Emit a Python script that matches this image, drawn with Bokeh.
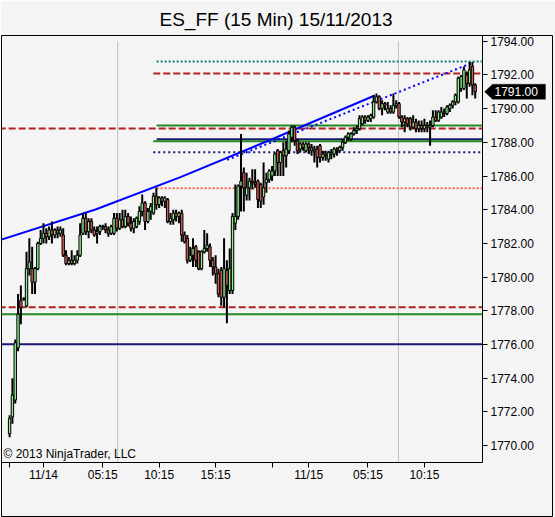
from bokeh.plotting import figure
from bokeh.models import (ColumnDataSource, FixedTicker, Label, PolyAnnotation, Range1d,
                          NumeralTickFormatter)
from bokeh.embed import file_html
from bokeh.resources import INLINE

FONT = "Liberation Sans"

# ---------------- data ----------------
opens = [1770.7, 1771.7, 1772.7, 1775.8, 1778.6, 1778.7, 1778.3, 1780.5, 1780.5, 1779.7,
         1780.5, 1782.0, 1782.3, 1782.6, 1782.4, 1782.8, 1782.5, 1782.8, 1782.6, 1782.5,
         1781.3, 1780.8, 1781.0, 1780.8, 1781.0, 1781.3, 1782.6, 1783.5, 1782.7, 1783.3,
         1782.8, 1782.6, 1782.7, 1783.0, 1783.0, 1782.8, 1782.6, 1782.6, 1783.5, 1782.9,
         1783.4, 1783.0, 1783.6, 1783.2, 1782.9, 1783.0, 1783.3, 1783.9, 1784.4, 1783.3,
         1783.9, 1783.8, 1784.8, 1784.3, 1784.7, 1784.5, 1784.6, 1783.3, 1783.4, 1783.8,
         1783.6, 1783.8, 1782.5, 1782.3, 1781.0, 1781.3, 1781.8, 1781.5, 1780.5, 1781.5,
         1781.7, 1781.8, 1781.0, 1780.6, 1780.2, 1780.4, 1778.8, 1780.4, 1779.2, 1779.2,
         1783.2, 1783.6, 1785.4, 1786.2, 1784.85, 1785.3, 1785.7, 1785.6, 1785.7, 1785.5,
         1784.75, 1785.6, 1785.8, 1786.0, 1786.3, 1787.5, 1786.8, 1787.5, 1787.2, 1787.5,
         1788.3, 1788.9, 1788.1, 1787.6, 1787.9, 1787.5, 1787.9, 1787.7, 1787.5, 1787.6,
         1787.8, 1787.1, 1787.3, 1787.0, 1787.4, 1787.3, 1787.6, 1787.5, 1787.7, 1788.0,
         1788.3, 1788.2, 1788.5, 1788.7, 1788.8, 1789.1, 1789.5, 1789.3, 1789.4, 1789.5,
         1790.4, 1790.7, 1790.0, 1790.3, 1789.8, 1790.0, 1789.8, 1790.2, 1790.3, 1789.5,
         1789.2, 1789.4, 1789.4, 1788.9, 1789.2, 1788.8, 1789.0, 1788.8, 1789.0, 1788.9,
         1789.0, 1789.5, 1789.3, 1789.5, 1789.8, 1789.7, 1790.0, 1790.2, 1790.4, 1790.4,
         1791.2, 1791.2, 1792.0, 1791.5, 1792.5, 1791.4]
highs = [1771.8, 1774.0, 1776.3, 1779.0, 1779.5, 1778.8, 1781.5, 1782.3, 1781.8, 1780.6,
         1782.1, 1782.8, 1783.2, 1782.9, 1783.0, 1783.3, 1782.9, 1783.0, 1783.0, 1782.9,
         1781.6, 1781.2, 1781.6, 1781.3, 1781.6, 1783.2, 1783.8, 1783.8, 1783.5, 1783.5,
         1783.0, 1783.0, 1783.1, 1783.1, 1783.2, 1783.0, 1783.1, 1783.8, 1783.8, 1783.8,
         1784.0, 1784.0, 1783.8, 1783.6, 1783.5, 1783.6, 1784.2, 1784.9, 1784.5, 1784.1,
         1784.4, 1785.0, 1785.3, 1784.8, 1784.8, 1784.8, 1784.7, 1783.8, 1784.0, 1784.0,
         1783.9, 1784.0, 1782.7, 1782.5, 1781.8, 1782.3, 1781.9, 1781.6, 1781.6, 1782.8,
         1782.6, 1782.0, 1781.2, 1781.3, 1780.5, 1780.6, 1782.3, 1781.0, 1781.7, 1783.8,
         1785.5, 1785.5, 1788.5, 1786.5, 1786.2, 1785.9, 1786.4, 1786.4, 1785.8, 1785.6,
         1786.8, 1786.2, 1786.4, 1786.6, 1787.4, 1787.6, 1787.5, 1788.0, 1788.1, 1788.7,
         1789.0, 1789.0, 1788.2, 1788.0, 1788.0, 1788.0, 1788.0, 1787.9, 1787.8, 1787.8,
         1787.9, 1787.5, 1787.5, 1787.5, 1787.6, 1787.7, 1787.7, 1787.8, 1788.2, 1788.4,
         1788.6, 1788.6, 1788.9, 1789.0, 1789.6, 1789.6, 1789.6, 1789.6, 1789.7, 1790.8,
         1790.9, 1790.8, 1790.5, 1790.4, 1790.4, 1790.2, 1790.9, 1790.5, 1790.4, 1789.6,
         1789.6, 1789.5, 1789.5, 1789.6, 1789.4, 1789.3, 1789.3, 1789.4, 1789.2, 1789.3,
         1789.9, 1789.9, 1789.9, 1790.1, 1790.0, 1790.2, 1790.3, 1790.5, 1790.9, 1791.9,
         1792.0, 1792.5, 1792.2, 1792.77, 1792.77, 1791.5]
lows = [1770.5, 1771.3, 1772.5, 1775.6, 1777.2, 1778.6, 1778.2, 1780.1, 1779.0, 1779.0,
        1780.4, 1781.9, 1782.0, 1782.0, 1782.2, 1782.0, 1782.3, 1782.3, 1782.4, 1781.2,
        1780.7, 1780.7, 1780.7, 1780.7, 1780.8, 1781.2, 1782.5, 1782.5, 1782.3, 1782.6,
        1782.4, 1782.0, 1782.5, 1782.8, 1782.6, 1782.4, 1782.5, 1782.5, 1782.7, 1782.8,
        1782.9, 1782.9, 1783.0, 1782.7, 1782.6, 1782.9, 1783.1, 1783.6, 1782.8, 1783.2,
        1783.4, 1783.7, 1784.0, 1784.1, 1784.2, 1784.1, 1783.2, 1783.1, 1783.1, 1783.3,
        1783.2, 1782.1, 1782.0, 1780.8, 1780.9, 1780.6, 1780.6, 1780.4, 1780.4, 1781.4,
        1781.5, 1780.6, 1780.1, 1779.6, 1778.8, 1778.3, 1778.2, 1777.26, 1779.0, 1779.0,
        1782.8, 1783.4, 1783.9, 1783.9, 1784.55, 1784.55, 1785.2, 1785.3, 1784.1, 1784.1,
        1784.3, 1785.0, 1785.6, 1785.7, 1786.0, 1786.0, 1786.0, 1786.0, 1786.5, 1787.3,
        1788.0, 1787.8, 1787.3, 1787.4, 1787.5, 1787.4, 1787.3, 1787.2, 1786.8, 1786.5,
        1786.8, 1786.9, 1786.9, 1786.8, 1787.0, 1787.1, 1787.2, 1787.4, 1787.5, 1787.9,
        1788.1, 1788.1, 1788.4, 1788.5, 1788.7, 1789.0, 1789.1, 1789.2, 1789.2, 1789.4,
        1790.3, 1789.9, 1789.6, 1789.9, 1789.7, 1789.7, 1789.7, 1790.0, 1789.4, 1788.9,
        1788.6, 1788.9, 1788.7, 1788.8, 1788.6, 1788.6, 1788.6, 1788.6, 1788.6, 1787.8,
        1788.9, 1789.2, 1789.2, 1789.4, 1789.5, 1789.6, 1789.8, 1790.0, 1790.2, 1790.3,
        1791.0, 1791.1, 1790.6, 1791.3, 1790.8, 1790.6]
closes = [1771.6, 1773.0, 1776.1, 1777.8, 1778.2, 1778.7, 1780.5, 1780.9, 1779.7, 1780.5,
          1782.0, 1782.3, 1782.6, 1782.4, 1782.8, 1782.5, 1782.8, 1782.6, 1782.8, 1781.3,
          1780.8, 1781.0, 1780.8, 1781.0, 1781.3, 1782.5, 1783.5, 1782.7, 1783.3, 1782.8,
          1782.5, 1782.7, 1783.0, 1783.0, 1782.8, 1782.6, 1783.0, 1783.5, 1782.9, 1783.4,
          1783.0, 1783.6, 1783.2, 1782.9, 1783.3, 1783.5, 1783.9, 1784.4, 1783.3, 1783.9,
          1784.2, 1784.8, 1784.3, 1784.7, 1784.5, 1784.7, 1783.3, 1783.5, 1783.8, 1783.6,
          1783.8, 1782.5, 1782.1, 1781.0, 1781.3, 1781.7, 1781.0, 1780.5, 1781.5, 1781.7,
          1781.9, 1781.0, 1780.6, 1780.2, 1779.0, 1778.8, 1780.5, 1779.5, 1780.5, 1783.6,
          1783.6, 1785.4, 1785.7, 1785.3, 1785.3, 1785.7, 1785.6, 1785.5, 1784.6, 1784.5,
          1785.3, 1785.8, 1786.3, 1786.3, 1787.3, 1786.8, 1787.4, 1787.2, 1787.6, 1788.5,
          1788.9, 1788.1, 1787.5, 1787.9, 1787.7, 1787.9, 1787.7, 1787.5, 1787.6, 1787.1,
          1787.1, 1787.3, 1787.2, 1787.4, 1787.3, 1787.6, 1787.5, 1787.7, 1788.0, 1788.3,
          1788.5, 1788.5, 1788.7, 1788.8, 1789.4, 1789.5, 1789.3, 1789.5, 1789.6, 1790.4,
          1790.7, 1790.0, 1790.3, 1790.2, 1790.0, 1789.8, 1790.2, 1790.3, 1789.5, 1789.2,
          1789.4, 1789.1, 1788.9, 1789.2, 1788.8, 1789.0, 1788.8, 1789.0, 1788.9, 1789.0,
          1789.5, 1789.3, 1789.8, 1789.8, 1789.7, 1790.1, 1790.2, 1790.4, 1790.8, 1791.8,
          1791.9, 1792.3, 1791.5, 1792.3, 1791.4, 1791.0]

bar_index = list(range(len(opens)))

# x axis: bar index of each labelled tick
time_tick_bars = [0, 12, 33, 53, 73, 93, 106, 127, 147]
time_tick_labels = ["", "11/14", "05:15", "10:15", "15:15", "", "11/15", "05:15", "10:15"]
price_ticks = [1770, 1772, 1774, 1776, 1778, 1780, 1782, 1784, 1786, 1788, 1790, 1792, 1794]

# vertical session markers (bar index)
session_bars = [38.3, 137.8]

# horizontal levels: price, first bar, style key
level_prices = [1792.79, 1792.08, 1788.82, 1789.00, 1788.18, 1788.06, 1787.41, 1785.27,
                1778.21, 1777.79, 1776.01]
level_start_bars = [52.1, 50.9, -5.0, 52.1, 52.1, 50.9, 50.9, 52.1, -5.0, -5.0, -5.0]
level_kinds = ["teal_dot", "red_dash", "red_dash", "green", "navy", "green", "navy_dot",
               "tomato_dot", "red_dash", "green", "navy"]

# trend lines (bar index, price)
trend_solid_bars = [-3.22, 30.44, 60.56, 94.22, 129.41]
trend_solid_prices = [1782.21, 1784.01, 1785.93, 1788.27, 1790.78]
trend_dot_bars = [77.1, 164.5]
trend_dot_prices = [1786.96, 1792.75]

last_price = 1791.00
title_text = "ES_FF (15 Min)  15/11/2013"
copyright_text = "\u00a9 2013 NinjaTrader, LLC"

# ---------------- styles / geometry ----------------
LEVEL_STYLE = {
    "teal_dot": dict(line_color="#008080", line_dash="2 2"),
    "red_dash": dict(line_color="#B22222", line_dash="7 3"),
    "green": dict(line_color="#228B22", line_dash="solid"),
    "navy": dict(line_color="#191970", line_dash="solid"),
    "navy_dot": dict(line_color="#191970", line_dash="2 3"),
    "tomato_dot": dict(line_color="#FF6347", line_dash="2 2"),
}
BG = "#f4f4f4"
UP = "#90EE90"
DOWN = "#CD5C5C"

X0 = -2.87          # left edge of the panel
X_AXIS = 167.58     # where the price axis sits
X1 = 192.38         # right edge of the outer panel frame
Y_AXIS = 1768.99    # where the time axis sits
Y1 = 1794.34        # top of the panel
Y0 = 1765.79        # bottom of the outer panel frame

p = figure(width=555, height=517, x_range=Range1d(X0, X1), y_range=Range1d(Y0, Y1),
           y_axis_location="right", toolbar_location=None, output_backend="svg",
           min_border_left=1, min_border_right=3, min_border_top=35, min_border_bottom=1,
           background_fill_color=BG, border_fill_color=BG)
p.grid.visible = False
p.outline_line_color = "black"
p.outline_line_width = 1

# title
p.title.text = title_text
p.title.align = "left"
p.title.offset = 158
p.title.standoff = 11
p.title.text_font = FONT
p.title.text_font_size = "19px"
p.title.text_font_style = "normal"
p.title.text_color = "black"

# session markers
p.segment(x0=session_bars, y0=[Y_AXIS] * len(session_bars), x1=session_bars,
          y1=[1794.0] * len(session_bars), line_color="#c0c0c0", line_width=1)

# levels
for price, start, kind in zip(level_prices, level_start_bars, level_kinds):
    st = LEVEL_STYLE[kind]
    p.segment(x0=[max(start, X0 - 1)], y0=[price], x1=[X_AXIS], y1=[price], line_width=2, **st)

# trend lines
p.line(trend_solid_bars, trend_solid_prices, line_color="#0000FF", line_width=2)
p.line(trend_dot_bars, trend_dot_prices, line_color="#0000FF", line_width=2, line_dash="2 3")

# candles
src = ColumnDataSource(dict(
    x=bar_index,
    high=highs,
    low=lows,
    top=[max(o, c) for o, c in zip(opens, closes)],
    bottom=[min(o, c) for o, c in zip(opens, closes)],
    color=[UP if c >= o else DOWN for o, c in zip(opens, closes)],
))
p.segment(x0="x", y0="low", x1="x", y1="high", source=src, line_color="black", line_width=2)
p.vbar(x="x", width=0.85, top="top", bottom="bottom", fill_color="color",
       line_color="black", line_width=1, source=src)

# axes (fixed inside the outer panel frame)
xa = p.xaxis[0]
xa.fixed_location = Y_AXIS
xa.bounds = (X0, X_AXIS)
xa.ticker = FixedTicker(ticks=time_tick_bars)
xa.major_label_overrides = {t: l for t, l in zip(time_tick_bars, time_tick_labels)}
xa.major_tick_out = 5
xa.major_tick_in = 0
xa.minor_tick_line_color = None
xa.major_label_standoff = 0
xa.major_label_text_font = FONT
xa.major_label_text_font_size = "12px"
xa.major_label_text_color = "black"
xa.axis_line_color = "black"
xa.major_tick_line_color = "black"

ya = p.yaxis[0]
ya.fixed_location = X_AXIS
ya.bounds = (Y_AXIS, Y1)
ya.ticker = FixedTicker(ticks=price_ticks)
ya.formatter = NumeralTickFormatter(format="0.00")
ya.major_tick_out = 5
ya.major_tick_in = 0
ya.minor_tick_line_color = None
ya.major_label_standoff = 3
ya.major_label_text_font = FONT
ya.major_label_text_font_size = "12px"
ya.major_label_text_color = "black"
ya.axis_line_color = "black"
ya.major_tick_line_color = "black"

# copyright
p.add_layout(Label(x=-2.16, y=1769.52, text=copyright_text,
                   text_align="left", text_baseline="middle", text_font=FONT,
                   text_font_size="12px", text_color="black"))

# last price marker
p.add_layout(PolyAnnotation(xs=[168.29, 171.12, 189.9, 189.9, 171.12],
                            ys=[last_price, last_price + 0.45, last_price + 0.45,
                                last_price - 0.45, last_price - 0.45],
                            fill_color="black", fill_alpha=1.0, line_color="black"))
p.add_layout(Label(x=171.83, y=last_price, text="%.2f" % last_price, text_align="left",
                   text_baseline="middle", text_font=FONT, text_font_size="12px",
                   text_color="white"))

html = file_html(p, INLINE, title="ES_FF (15 Min)")
html = html.replace("<body>", '<body style="background-color:%s;">' % BG, 1)
open("out.html", "w").write(html)
